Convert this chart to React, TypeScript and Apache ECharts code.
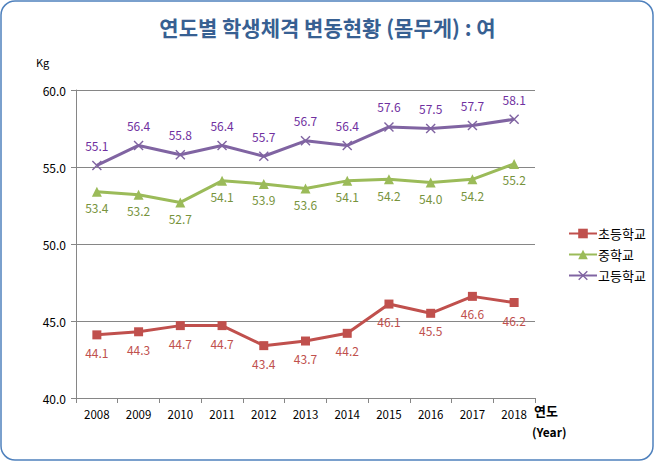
import React, { useEffect, useRef } from "react";
import * as echarts from "echarts";

const years = ["2008", "2009", "2010", "2011", "2012", "2013", "2014", "2015", "2016", "2017", "2018"];
const elementary = [44.1, 44.3, 44.7, 44.7, 43.4, 43.7, 44.2, 46.1, 45.5, 46.6, 46.2];
const middle = [53.4, 53.2, 52.7, 54.1, 53.9, 53.6, 54.1, 54.2, 54.0, 54.2, 55.2];
const high = [55.1, 56.4, 55.8, 56.4, 55.7, 56.7, 56.4, 57.6, 57.5, 57.7, 58.1];
const seriesNames = ["초등학교", "중학교", "고등학교"];

const FONT = '"Noto Sans CJK KR", "Noto Sans", sans-serif';
const X_SYMBOL =
  "path://M0,1 L1,0 L5,4 L9,0 L10,1 L6,5 L10,9 L9,10 L5,6 L1,10 L0,9 L4,5 Z";

export default function App() {
  const ref = useRef<HTMLDivElement>(null);
  useEffect(() => {
    if (!ref.current) return;
    const chart = echarts.init(ref.current, undefined, { renderer: "svg" });
    const labelBase = { show: true, fontSize: 12, fontFamily: FONT, formatter: (p: any) => p.value.toFixed(1) };
    chart.setOption({
      animation: false,
      backgroundColor: "#ffffff",
      textStyle: { fontFamily: FONT },
      title: {
        text: "연도별 학생체격 변동현황 (몸무게) : 여",
        left: "center",
        top: 11,
        textStyle: { fontSize: 21, fontWeight: "bold", color: "#376092", fontFamily: FONT },
      },
      graphic: [
        {
          type: "rect",
          shape: { x: 1, y: 1, width: 652, height: 459, r: 14 },
          style: { fill: "none", stroke: "#4F81BD", lineWidth: 1.5 },
          z: 100,
          silent: true,
        },
        { type: "text", left: 36, top: 56, style: { text: "Kg", fontSize: 11, fontFamily: FONT, fill: "#000" } },
        { type: "text", left: 534, top: 404, style: { text: "연도", fontSize: 13, fontWeight: "bold", fontFamily: FONT, fill: "#000" } },
        { type: "text", left: 532, top: 425, style: { text: "(Year)", fontSize: 12, fontWeight: "bold", fontFamily: FONT, fill: "#000" } },
      ],
      legend: {
        orient: "vertical",
        left: 563,
        top: 222,
        itemGap: 8,
        itemWidth: 28,
        itemHeight: 12,
        textStyle: { fontSize: 13, fontFamily: FONT, color: "#000", padding: [0, 0, 0, -4] },
        data: seriesNames,
      },
      grid: { left: 76, right: 120, top: 90, bottom: 64, containLabel: false },
      xAxis: {
        type: "category",
        data: years,
        boundaryGap: true,
        axisLine: { lineStyle: { color: "#868686" } },
        axisTick: { show: true, lineStyle: { color: "#868686" }, length: 5 },
        axisLabel: { color: "#000", fontSize: 11.5, margin: 10, fontFamily: FONT },
      },
      yAxis: {
        type: "value",
        min: 40,
        max: 60,
        interval: 5,
        axisLine: { show: true, lineStyle: { color: "#868686" } },
        axisTick: { show: true, lineStyle: { color: "#868686" }, length: 5 },
        axisLabel: { color: "#000", fontSize: 12, margin: 10, fontFamily: FONT, formatter: (v: number) => v.toFixed(1) },
        splitLine: { lineStyle: { color: "#868686" } },
      },
      series: [
        {
          name: seriesNames[0],
          type: "line",
          data: elementary,
          color: "#C0504D",
          lineStyle: { width: 3 },
          symbol: "rect",
          symbolSize: 9,
          label: { ...labelBase, position: "bottom", distance: 7, color: "#C0504D" },
        },
        {
          name: seriesNames[1],
          type: "line",
          data: middle,
          color: "#9BBB59",
          lineStyle: { width: 3 },
          symbol: "triangle",
          symbolSize: 10,
          label: { ...labelBase, position: "bottom", distance: 5, color: "#77933C" },
        },
        {
          name: seriesNames[2],
          type: "line",
          data: high,
          color: "#8064A2",
          lineStyle: { width: 3 },
          symbol: X_SYMBOL,
          symbolSize: 10,
          label: { ...labelBase, position: "top", distance: 9, color: "#7030A0" },
        },
      ],
    });
    return () => chart.dispose();
  }, []);
  return <div ref={ref} style={{ position: "absolute", left: 0, top: 0, width: 655, height: 462 }} />;
}
